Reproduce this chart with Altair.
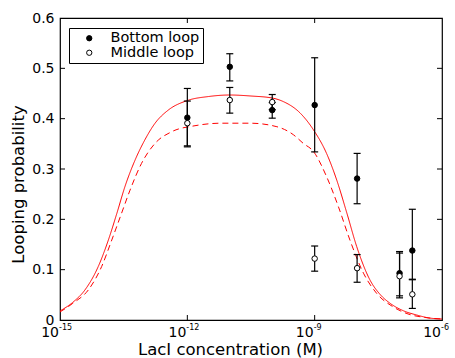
import altair as alt
import pandas as pd

# ---- data ----
conc = [1e-12, 1e-11, 1e-10, 1e-9, 1e-8, 1e-7, 2e-7]
bottom = [0.402, 0.503, 0.417, 0.427, 0.281, 0.093, 0.138]
bottom_lo = [0.344, 0.475, 0.401, 0.334, 0.231, 0.048, 0.081]
bottom_hi = [0.460, 0.529, 0.432, 0.521, 0.331, 0.136, 0.220]
middle = [0.391, 0.437, 0.433, 0.122, 0.103, 0.087, 0.051]
middle_lo = [0.346, 0.411, 0.418, 0.097, 0.075, 0.044, 0.023]
middle_hi = [0.435, 0.462, 0.448, 0.147, 0.130, 0.133, 0.080]

# model curves: log10 concentration and probability
solid_logc = [-15, -14.7, -14.41, -14.10, -13.86, -13.66, -13.47, -13.23, -13.0, -12.76,
              -12.45, -12.0, -11.5, -11.0, -10.5, -10.0, -9.74, -9.34, -9.03, -8.72,
              -8.48, -8.24, -8.01, -7.70, -7.45, -7.22, -6.9, -6.6, -6.3, -6.0]
solid_p = [0.018, 0.035, 0.060, 0.106, 0.159, 0.212, 0.265, 0.318, 0.358, 0.391,
           0.417, 0.436, 0.444, 0.447, 0.445, 0.441, 0.434, 0.411, 0.378, 0.331,
           0.278, 0.212, 0.146, 0.080, 0.050, 0.033, 0.018, 0.010, 0.004, 0.002]
dashed_logc = [-15, -14.7, -14.33, -14.02, -13.78, -13.55, -13.35, -13.08, -12.76, -12.37,
               -11.82, -11.2, -10.52, -9.89, -9.5, -9.27, -9.03, -8.72, -8.44, -8.17,
               -7.85, -7.54, -7.15, -6.8, -6.4, -6.0]
dashed_p = [0.016, 0.033, 0.060, 0.106, 0.159, 0.212, 0.258, 0.311, 0.351, 0.374,
            0.386, 0.391, 0.391, 0.384, 0.368, 0.351, 0.335, 0.285, 0.225, 0.159,
            0.093, 0.053, 0.026, 0.012, 0.005, 0.002]

x_ticks = [1e-15, 1e-12, 1e-9, 1e-6]
x_tick_base = ["10", "10", "10", "10"]
x_tick_exp = ["-15", "-12", "-9", "-6"]
x_inner_ticks = [1e-12, 1e-9]
y_ticks = [0, 0.1, 0.2, 0.3, 0.4, 0.5, 0.6]
y_inner_ticks = [0.1, 0.2, 0.3, 0.4, 0.5]

W, H = 382, 302
FONT = "DejaVu Sans"

pts = pd.DataFrame({
    "c": conc * 2,
    "p": bottom + middle,
    "lo": bottom_lo + middle_lo,
    "hi": bottom_hi + middle_hi,
    "series": ["Bottom loop"] * len(conc) + ["Middle loop"] * len(conc),
    "order": [0] * len(conc) + [1] * len(conc),
})
curves = pd.DataFrame({
    "c": [10 ** v for v in solid_logc] + [10 ** v for v in dashed_logc],
    "p": solid_p + dashed_p,
    "model": ["solid"] * len(solid_logc) + ["dashed"] * len(dashed_logc),
})
xlab = pd.DataFrame({"c": x_ticks, "base": x_tick_base, "exp": x_tick_exp})

xscale = alt.Scale(type="log", domain=[1e-15, 1e-6], nice=False)
yscale = alt.Scale(domain=[0, 0.6], nice=False, zero=False)

xaxis = alt.Axis(values=x_ticks, labels=False, ticks=False, domain=False, grid=False,
                 title="LacI concentration (M)", titleFontSize=16.5, titleFont=FONT,
                 titleFontWeight="normal", titleColor="black", titleX=170, titleY=34,
                 titleAlign="center", titleBaseline="alphabetic")
yaxis = alt.Axis(values=y_ticks, labelExpr="datum.value == 0 ? '0' : format(datum.value, '.1f')",
                 ticks=False, domain=False, grid=False, labelFontSize=14, labelFont=FONT,
                 labelPadding=6, labelColor="black",
                 title="Looping probability", titleFontSize=16.5, titleFont=FONT,
                 titleFontWeight="normal", titleColor="black", titleX=-37, titleY=166,
                 titleAlign="center", titleBaseline="alphabetic", titleAngle=270)

curve_layer = alt.Chart(curves).mark_line(color="#ff0000", strokeWidth=1, interpolate="monotone").encode(
    x=alt.X("c:Q", scale=xscale, axis=xaxis),
    y=alt.Y("p:Q", scale=yscale, axis=yaxis),
    strokeDash=alt.StrokeDash("model:N", scale=alt.Scale(domain=["solid", "dashed"], range=[[1, 0], [6, 4]]),
                              legend=None),
)

err_rule = alt.Chart(pts).mark_rule(color="black", strokeWidth=1.2).encode(
    x=alt.X("c:Q", scale=xscale), y=alt.Y("lo:Q", scale=yscale), y2="hi:Q")
cap_lo = alt.Chart(pts).mark_tick(color="black", orient="horizontal", size=7, thickness=1.2, opacity=1).encode(
    x=alt.X("c:Q", scale=xscale), y=alt.Y("lo:Q", scale=yscale))
cap_hi = alt.Chart(pts).mark_tick(color="black", orient="horizontal", size=7, thickness=1.2, opacity=1).encode(
    x=alt.X("c:Q", scale=xscale), y=alt.Y("hi:Q", scale=yscale))

points = alt.Chart(pts).mark_point(shape="circle", filled=True, stroke="black", strokeWidth=1,
                                   size=30, opacity=1).encode(
    x=alt.X("c:Q", scale=xscale),
    y=alt.Y("p:Q", scale=yscale),
    fill=alt.Fill("series:N", scale=alt.Scale(domain=["Bottom loop", "Middle loop"], range=["black", "white"]),
                  legend=alt.Legend(title=None, orient="none", legendX=9, legendY=10,
                                    strokeColor="black", fillColor="white", padding=3,
                                    labelFontSize=14.5, labelFont=FONT, labelColor="black",
                                    labelExpr="datum.label + '\u00a0\u00a0\u00a0\u00a0\u00a0'",
                                    symbolSize=28, symbolStrokeColor="black", symbolStrokeWidth=1,
                                    symbolOffset=10, labelOffset=14, rowPadding=-0.5)),
    order=alt.Order("order:Q"),
)

xt = pd.DataFrame({"c": x_inner_ticks})
yt = pd.DataFrame({"p": y_inner_ticks})
tick_b = alt.Chart(xt).mark_rule(color="black", strokeWidth=1).encode(
    x=alt.X("c:Q", scale=xscale), y=alt.value(H), y2=alt.value(H - 5))
tick_t = alt.Chart(xt).mark_rule(color="black", strokeWidth=1).encode(
    x=alt.X("c:Q", scale=xscale), y=alt.value(0), y2=alt.value(5))
tick_l = alt.Chart(yt).mark_rule(color="black", strokeWidth=1).encode(
    y=alt.Y("p:Q", scale=yscale), x=alt.value(0), x2=alt.value(5))
tick_r = alt.Chart(yt).mark_rule(color="black", strokeWidth=1).encode(
    y=alt.Y("p:Q", scale=yscale), x=alt.value(W), x2=alt.value(W - 5))

lab_base = alt.Chart(xlab).mark_text(align="right", baseline="alphabetic", fontSize=14, font=FONT,
                                     color="black", dx=-1, clip=False).encode(
    x=alt.X("c:Q", scale=xscale), y=alt.value(H + 17), text="base:N")
lab_exp = alt.Chart(xlab).mark_text(align="left", baseline="alphabetic", fontSize=8, font=FONT,
                                    color="black", dx=-1, clip=False).encode(
    x=alt.X("c:Q", scale=xscale), y=alt.value(H + 10), text="exp:N")

chart = alt.layer(curve_layer, tick_b, tick_t, tick_l, tick_r, err_rule, cap_lo, cap_hi, points,
                  lab_base, lab_exp).properties(
    width=W, height=H,
    autosize=alt.AutoSizeParams(type="none"),
    padding={"left": 60, "top": 18, "right": 13, "bottom": 38},
    background="white",
).configure_view(stroke="black", strokeWidth=1.2)

chart.save("out.html", embed_options={"renderer": "svg", "actions": False})
